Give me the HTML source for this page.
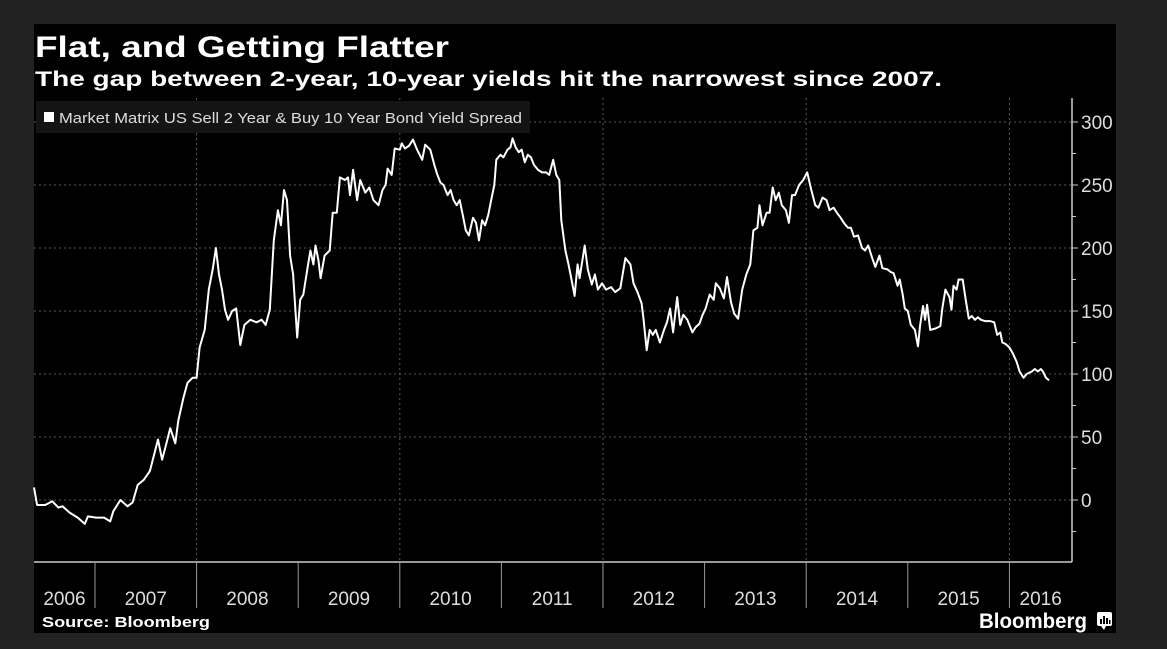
<!DOCTYPE html>
<html><head><meta charset="utf-8">
<style>
html,body{margin:0;padding:0;background:#222;}
svg{display:block;}
text{font-family:"Liberation Sans","DejaVu Sans",sans-serif;}
</style></head>
<body>
<svg id="chart" width="1167" height="649" viewBox="0 0 1167 649">
  <rect x="0" y="0" width="1167" height="649" fill="#222"/>
  <rect x="34" y="24" width="1082" height="609" fill="#000"/>
  <text x="35" y="57" font-size="30" font-weight="bold" fill="#fff" textLength="414" lengthAdjust="spacingAndGlyphs">Flat, and Getting Flatter</text>
  <text x="35" y="86" font-size="21" font-weight="bold" fill="#fff" textLength="907" lengthAdjust="spacingAndGlyphs">The gap between 2-year, 10-year yields hit the narrowest since 2007.</text>
  <g id="grid"></g>
  <g id="axes"></g>
  <rect x="36" y="101" width="494" height="32" fill="#141414"/>
  <rect x="44" y="112" width="10" height="10" fill="#fff"/>
  <text x="59" y="123" font-size="15" fill="#ddd" textLength="463" lengthAdjust="spacingAndGlyphs">Market Matrix US Sell 2 Year &amp; Buy 10 Year Bond Yield Spread</text>
  <g id="series"></g>
  <text x="42" y="627" font-size="15" font-weight="bold" fill="#fff" textLength="168" lengthAdjust="spacingAndGlyphs">Source: Bloomberg</text>
  <text x="979" y="628" font-size="21" font-weight="bold" fill="#fff" textLength="108" lengthAdjust="spacingAndGlyphs">Bloomberg</text>
  <g>
    <rect x="1097" y="612" width="15" height="14" rx="2" fill="#fff"/>
    <path d="M1101 626 L1104 630 L1106 626 Z" fill="#fff"/>
    <rect x="1100" y="619" width="2" height="5" fill="#000"/>
    <rect x="1103" y="616" width="2" height="8" fill="#000"/>
    <rect x="1106" y="618" width="2" height="6" fill="#000"/>
    <rect x="1109" y="620" width="1.5" height="4" fill="#000"/>
  </g>
</svg>
<script>
const dates = [2006.40,2006.43,2006.51,2006.58,2006.64,2006.68,2006.75,2006.83,2006.90,2006.93,2007.01,2007.09,2007.15,2007.18,2007.25,2007.32,2007.37,2007.42,2007.48,2007.54,2007.62,2007.66,2007.70,2007.74,2007.79,2007.82,2007.87,2007.91,2007.96,2008.00,2008.03,2008.08,2008.12,2008.16,2008.19,2008.22,2008.25,2008.28,2008.31,2008.35,2008.39,2008.43,2008.47,2008.53,2008.59,2008.64,2008.68,2008.72,2008.76,2008.80,2008.83,2008.86,2008.89,2008.92,2008.95,2008.99,2009.02,2009.05,2009.09,2009.12,2009.15,2009.17,2009.20,2009.22,2009.26,2009.31,2009.34,2009.38,2009.41,2009.46,2009.49,2009.51,2009.54,2009.58,2009.61,2009.66,2009.70,2009.74,2009.79,2009.83,2009.86,2009.88,2009.92,2009.95,2010.00,2010.02,2010.05,2010.09,2010.13,2010.17,2010.22,2010.25,2010.30,2010.34,2010.37,2010.40,2010.43,2010.47,2010.50,2010.53,2010.56,2010.59,2010.62,2010.65,2010.68,2010.72,2010.75,2010.78,2010.81,2010.84,2010.87,2010.90,2010.93,2010.95,2010.99,2011.02,2011.06,2011.09,2011.11,2011.14,2011.17,2011.20,2011.23,2011.26,2011.29,2011.32,2011.36,2011.40,2011.44,2011.47,2011.51,2011.54,2011.57,2011.59,2011.63,2011.66,2011.69,2011.72,2011.75,2011.77,2011.82,2011.85,2011.89,2011.92,2011.95,2011.99,2012.03,2012.08,2012.12,2012.17,2012.22,2012.27,2012.30,2012.34,2012.38,2012.40,2012.43,2012.46,2012.49,2012.52,2012.56,2012.60,2012.63,2012.66,2012.69,2012.73,2012.76,2012.79,2012.83,2012.88,2012.91,2012.95,2012.98,2013.01,2013.05,2013.09,2013.11,2013.15,2013.19,2013.22,2013.26,2013.29,2013.33,2013.37,2013.41,2013.45,2013.48,2013.52,2013.54,2013.57,2013.61,2013.64,2013.67,2013.70,2013.73,2013.76,2013.80,2013.83,2013.86,2013.89,2013.93,2013.97,2014.01,2014.05,2014.09,2014.12,2014.16,2014.20,2014.23,2014.27,2014.31,2014.34,2014.37,2014.41,2014.44,2014.47,2014.51,2014.55,2014.58,2014.61,2014.65,2014.68,2014.72,2014.75,2014.80,2014.83,2014.86,2014.90,2014.92,2014.95,2014.97,2015.00,2015.03,2015.07,2015.10,2015.12,2015.15,2015.17,2015.19,2015.22,2015.27,2015.32,2015.34,2015.37,2015.41,2015.43,2015.45,2015.48,2015.50,2015.54,2015.57,2015.60,2015.63,2015.66,2015.69,2015.72,2015.76,2015.81,2015.85,2015.88,2015.91,2015.93,2015.96,2016.00,2016.03,2016.07,2016.10,2016.14,2016.17,2016.22,2016.25,2016.28,2016.31,2016.33,2016.36,2016.39];
const spreads = [10,-4,-4,-1,-6,-5,-10,-14,-19,-13,-14,-14,-17,-9,0,-5,-2,12,16,23,48,32,44,57,45,63,81,93,97,97,121,135,167,184,200,179,167,151,143,150,152,123,139,143,141,143,139,151,206,230,218,246,238,194,179,129,159,163,183,198,187,202,190,176,194,198,228,228,256,254,256,242,262,238,254,244,248,238,234,246,250,263,258,279,278,283,279,281,286,278,270,282,278,266,258,252,250,242,246,238,234,238,226,214,210,224,220,206,222,218,226,238,250,270,274,272,278,280,287,280,276,278,268,274,272,266,262,260,260,258,270,258,254,222,198,187,175,162,187,176,202,183,171,179,167,172,167,169,165,168,192,187,172,165,156,143,119,135,131,135,125,135,141,152,133,161,139,147,143,133,137,140,147,152,163,159,172,168,160,177,157,148,144,167,179,187,214,216,234,218,228,228,248,238,244,234,230,220,242,242,250,254,260,246,234,232,240,238,230,232,227,224,220,216,216,209,210,200,198,202,192,185,194,184,183,181,180,170,175,163,152,150,139,135,122,138,154,143,155,135,136,138,152,167,161,151,170,167,175,175,159,144,146,143,145,143,142,142,141,131,133,125,124,121,117,110,102,97,100,102,104,102,104,102,97,95];
const yTicks = [0,50,100,150,200,250,300];
const yMinorTicks = [-25,25,75,125,175,225,275];
const yearLabels = ["2006","2007","2008","2009","2010","2011","2012","2013","2014","2015","2016"];
const yearBoundaries = [2007,2008,2009,2010,2011,2012,2013,2014,2015,2016];
const gridYears = [2008,2010,2012,2014,2016];

const NS = "http://www.w3.org/2000/svg";
const PL = 34, PR = 1072, PT = 98, PB = 562;
function xScale(yr){ return 95 + (yr - 2007) * 101.6; }
function yScale(v){ return 500 - v * 1.26; }
function mk(tag, attrs, parent){
  const e = document.createElementNS(NS, tag);
  for (const k in attrs) e.setAttribute(k, attrs[k]);
  parent.appendChild(e);
  return e;
}
const grid = document.getElementById('grid');
const axes = document.getElementById('axes');
const series = document.getElementById('series');

yTicks.forEach(v => {
  const y = yScale(v);
  const g = mk('line', {x1:PL, x2:PR, y1:y, y2:y, stroke:'#5a5a5a', 'stroke-width':1, 'stroke-dasharray':'2,3'}, grid);
  
  
  const t = mk('line', {x1:PR, x2:PR+6, y1:y, y2:y, stroke:'#ccc', 'stroke-width':1}, axes);
  
  
  const lb = mk('text', {x:PR+9, y:y+7, 'font-size':19, fill:'#ddd'}, axes);
  lb.textContent = String(v);
  
  
});
yMinorTicks.forEach(v => {
  const y = yScale(v);
  const t = mk('line', {x1:PR, x2:PR+4, y1:y, y2:y, stroke:'#ccc', 'stroke-width':1}, axes);
  
  
});
gridYears.forEach(yr => {
  const x = xScale(yr);
  const g = mk('line', {x1:x, x2:x, y1:PT, y2:PB, stroke:'#5a5a5a', 'stroke-width':1, 'stroke-dasharray':'2,3'}, grid);
  
  
});
const ya = mk('line', {x1:PR, x2:PR, y1:PT, y2:PB, stroke:'#ccc', 'stroke-width':1.5}, axes);


const xa = mk('line', {x1:PL, x2:PR, y1:PB, y2:PB, stroke:'#ccc', 'stroke-width':1.5}, axes);


yearBoundaries.forEach(yr => {
  const x = xScale(yr);
  const s = mk('line', {x1:x, x2:x, y1:PB, y2:608, stroke:'#999', 'stroke-width':1}, axes);
  
  
});
yearLabels.forEach((lab, i) => {
  const yr = parseInt(lab, 10);
  const x0 = Math.max(PL, xScale(yr));
  const x1 = Math.min(PR, xScale(yr + 1));
  const t = mk('text', {x:(x0 + x1) / 2, y:605, 'font-size':19, fill:'#ddd', 'text-anchor':'middle'}, axes);
  t.textContent = lab;
  
  
});
let d = '';
dates.forEach((yr, i) => {
  d += (i ? 'L' : 'M') + xScale(yr).toFixed(1) + ' ' + yScale(spreads[i]).toFixed(1);
});
const line = mk('path', {d:d, fill:'none', stroke:'#fff', 'stroke-width':2, 'stroke-linejoin':'round'}, series);


</script>
</body></html>
